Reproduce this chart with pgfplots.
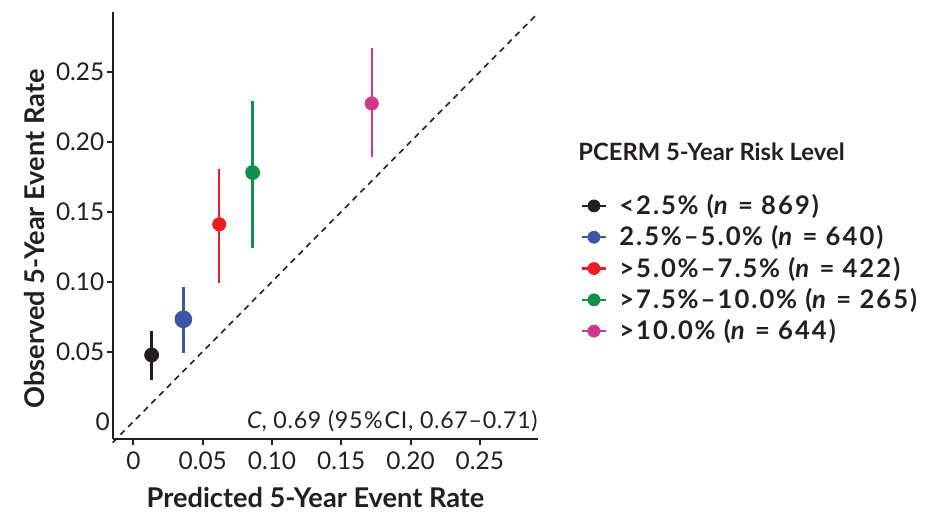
\documentclass[border=0pt]{standalone}
\usepackage{fontspec}
\setmainfont{Lato}
\usepackage{pgfplots}
\pgfplotsset{compat=1.18}
\definecolor{axisgray}{HTML}{231F20}
\definecolor{cblack}{HTML}{231F20}
\definecolor{cblue}{HTML}{3A56A5}
\definecolor{cred}{HTML}{EC1C24}
\definecolor{cgreen}{HTML}{11904A}
\definecolor{cpink}{HTML}{D2358A}
\newcommand{\pc}{\kern0.8pt\%}
\pgfplotsset{
  ebar/.style={only marks, mark=*, color=#1, mark options={draw=none, fill=#1},
    error bars/y dir=both, error bars/y explicit, error bars/error mark=none,
    error bars/error bar style={line width=1.2pt, color=#1}},
  limg/.style={legend image code/.code={\draw[line width=1.2pt,#1] (0pt,0pt)--(11.7pt,0pt); \fill[#1] (5.85pt,0pt) circle (3pt);}},
}
\begin{document}
\begin{tikzpicture}
\useasboundingbox (-56.35pt,-41pt) rectangle (406.65pt,219.5pt);
\begin{axis}[
  scale only axis,
  width=212.65pt, height=213.65pt,
  xmin=-0.015, xmax=0.292, ymin=-0.0125, ymax=0.293,
  axis lines=left,
  axis line style={-, line width=1pt, color=axisgray},
  xtick={0,0.05,0.1,0.15,0.2,0.25},
  xticklabels={0,0.05,0.10,0.15,0.20,0.25},
  ytick={0.05,0.1,0.15,0.2,0.25},
  yticklabels={0.05,0.10,0.15,0.20,0.25},
  extra y ticks={0}, extra y tick labels={0},
  extra y tick style={major tick length=0pt},
  tick align=outside, major tick length=2.8pt,
  tick style={line width=1pt, color=axisgray},
  tick label style={font=\fontsize{12.2}{14}\selectfont, text=axisgray},
  yticklabel style={inner sep=1.2pt},
  xticklabel style={inner sep=3.5pt},
  xlabel={Predicted 5-Year Event Rate},
  ylabel={Observed 5-Year Event Rate},
  label style={font=\bfseries\fontsize{13.6}{16}\selectfont, text=axisgray},
  xlabel style={at={(axis description cs:0.477,-0.138)}, anchor=center},
  ylabel style={at={(axis description cs:-0.183,0.468)}, anchor=center},
  legend style={at={(axis description cs:1.1004,0.5734)}, anchor=north west,
    draw=none, fill=none, inner sep=0pt, row sep=4.1pt, column sep=6.2pt,
    font=\bfseries\fontsize{12.8}{15}\selectfont\addfontfeature{LetterSpace=8}, text=axisgray,
    nodes={inner sep=0pt}},
  legend cell align=left,
  clip=false,
]
\addplot[dashed, dash pattern=on 3pt off 2.5pt, line width=0.8pt, color=axisgray, forget plot]
  coordinates {(-0.015,-0.015) (0.292,0.292)};

\addplot[ebar=cblack, mark size=3.5pt, limg=cblack]
  coordinates {(0.0131,0.0476) += (0,0.0174) -= (0,0.0178)};
\addlegendentry{<2.5\pc{} (\textit{n} = 869)}
\addplot[ebar=cblue, mark size=4.2pt, limg=cblue]
  coordinates {(0.036,0.0731) += (0,0.0233) -= (0,0.0238)};
\addlegendentry{2.5\pc–5.0\pc{} (\textit{n} = 640)}
\addplot[ebar=cred, mark size=3.3pt, limg=cred]
  coordinates {(0.0619,0.141) += (0,0.0393) -= (0,0.042)};
\addlegendentry{>5.0\pc–7.5\pc{} (\textit{n} = 422)}
\addplot[ebar=cgreen, mark size=3.5pt, limg=cgreen]
  coordinates {(0.086,0.178) += (0,0.051) -= (0,0.0537)};
\addlegendentry{>7.5\pc–10.0\pc{} (\textit{n} = 265)}
\addplot[ebar=cpink, mark size=3.3pt, limg=cpink]
  coordinates {(0.172,0.2274) += (0,0.0396) -= (0,0.0381)};
\addlegendentry{>10.0\pc{} (\textit{n} = 644)}

\node[anchor=west, inner sep=0pt, font=\bfseries\fontsize{11.9}{14}\selectfont, text=axisgray]
  at (axis description cs:1.094,0.6717) {PCERM 5-Year Risk Level};
\node[anchor=east, inner sep=0pt, font=\fontsize{11.6}{14}\selectfont\addfontfeature{LetterSpace=3}, text=axisgray]
  at (axis description cs:1.0,0.042) {\textit{C}, 0.69 (95\pc\kern1pt CI, 0.67–0.71)};
\end{axis}
\end{tikzpicture}
\end{document}
